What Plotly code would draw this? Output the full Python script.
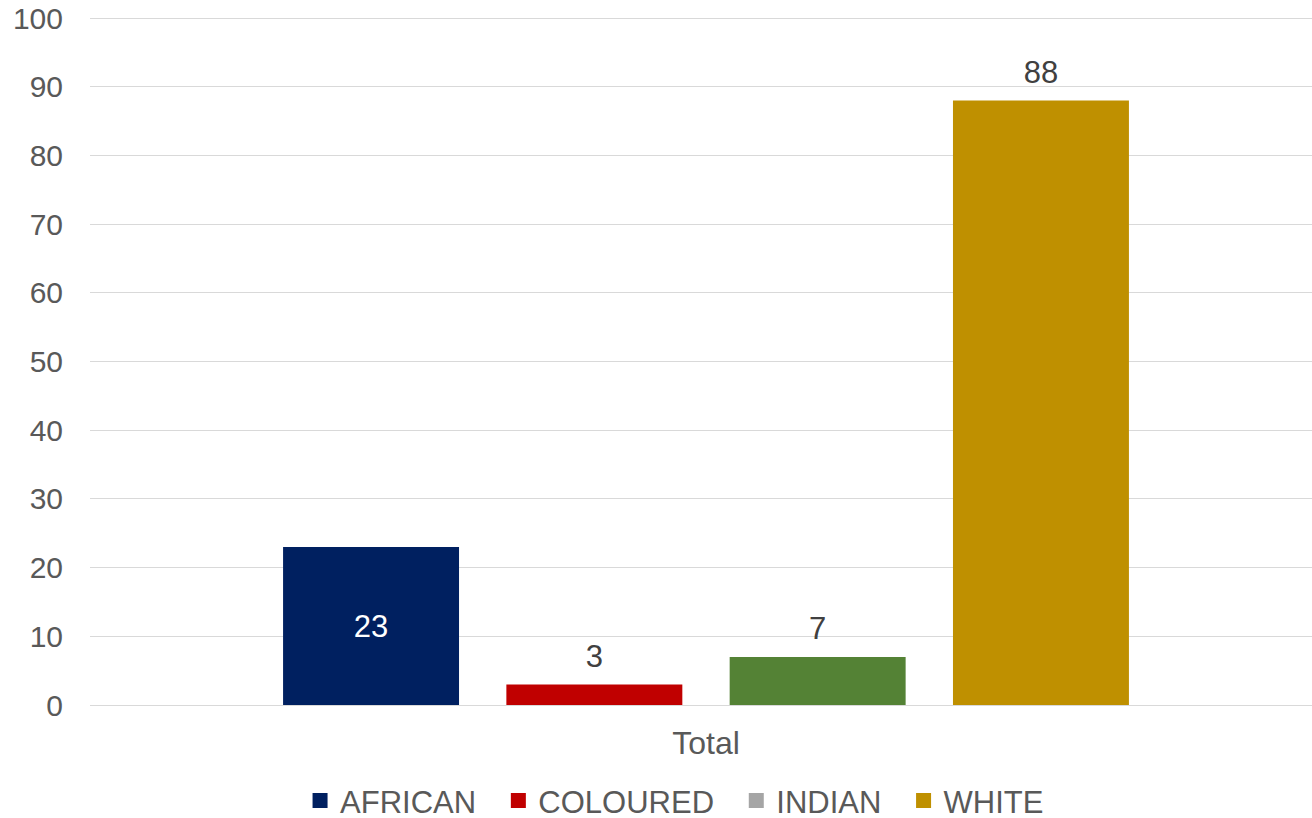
import plotly.graph_objects as go

categories = ["Total"]
series_names = ["AFRICAN", "COLOURED", "INDIAN", "WHITE"]
series_values = [[23], [3], [7], [88]]
bar_colors = ["#002060", "#C00000", "#548235", "#BF9000"]
legend_colors = ["#002060", "#C00000", "#A5A5A5", "#BF9000"]
y_ticks = list(range(0, 101, 10))

FONT = "Liberation Sans, Arial, sans-serif"
FS = 30
PAD = "\u00a0\u00a0"

fig = go.Figure()
for i, (name, vals) in enumerate(zip(series_names, series_values)):
    inside = i == 0
    fig.add_trace(go.Bar(
        x=categories, y=vals, name=name,
        offsetgroup=str(i), alignmentgroup="a",
        marker=dict(color=bar_colors[i], line=dict(width=0)),
        text=[str(v) for v in vals] if inside else None,
        textposition="inside" if inside else "none",
        insidetextanchor="middle",
        textfont=dict(family=FONT, size=31, color="#FFFFFF"),
        showlegend=False,
        hoverinfo="skip",
    ))
    if not inside:
        fig.add_trace(go.Scatter(
            x=categories, y=vals, mode="markers+text",
            offsetgroup=str(i), alignmentgroup="a",
            marker=dict(size=14, opacity=0),
            text=[str(v) for v in vals], textposition="top center",
            textfont=dict(family=FONT, size=31, color="#404040"),
            cliponaxis=False, showlegend=False, hoverinfo="skip",
        ))

for name, col in zip(series_names, legend_colors):
    fig.add_trace(go.Scatter(
        x=[None], y=[None], mode="markers", name=name + PAD,
        marker=dict(symbol="square", size=15, color=col),
    ))

fig.update_layout(
    width=1322, height=826,
    margin=dict(l=90, r=0, t=16, b=121, autoexpand=False),
    paper_bgcolor="white", plot_bgcolor="white",
    barmode="group", bargap=0.275, bargroupgap=0.212,
    scattermode="group", scattergap=0.275,
    font=dict(family=FONT, size=FS, color="#595959"),
    legend=dict(orientation="h", x=0.1705, xanchor="left", y=-0.139, yanchor="middle",
                font=dict(family=FONT, size=31, color="#595959"),
                itemwidth=30, tracegroupgap=0),
)
fig.update_xaxes(showgrid=False, showline=False, ticks="", ticklabelstandoff=16, automargin=False,
                 tickfont=dict(family=FONT, size=32, color="#595959"))
fig.update_yaxes(range=[0, 100.3], tickvals=y_ticks, showgrid=True, gridcolor="#D9D9D9",
                 gridwidth=1.3, zeroline=True, zerolinecolor="#D9D9D9", zerolinewidth=1.3,
                 showline=False, ticks="", ticklabelstandoff=26, automargin=False,
                 ticklabeloverflow="allow",
                 tickfont=dict(family=FONT, size=FS, color="#595959"))

fig.write_html("out.html",
               config={"displayModeBar": False},
               post_script="document.body.style.margin='0';document.body.style.overflow='hidden';")
